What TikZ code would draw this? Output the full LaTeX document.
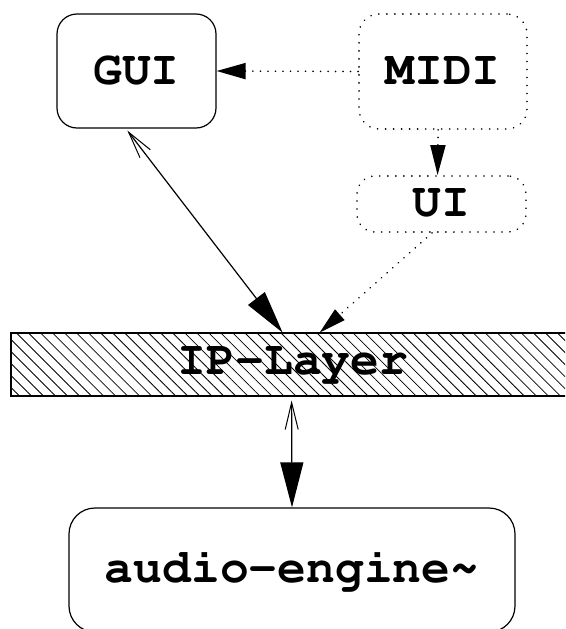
\documentclass[tikz,border=0pt]{standalone}
\usepackage[T1]{fontenc}
\usepackage{courier}
\usetikzlibrary{arrows.meta,patterns.meta,calc}
\begin{document}
\begin{tikzpicture}[x=1pt,y=-1pt,
  lbl/.style={font=\fontsize{48}{48}\selectfont\ttfamily\bfseries},
  solidbox/.style={draw,line width=1.2pt,rounded corners=20pt,inner sep=0pt,lbl},
  dotbox/.style={draw,line width=1.8pt,line cap=round,dash pattern=on 0.01pt off 8pt,rounded corners=20pt,inner sep=0pt,lbl},
  conn/.style={line width=1.2pt},
  dotconn/.style={line width=1.8pt,line cap=round,dash pattern=on 0.01pt off 7.5pt}
]
\useasboundingbox (0,0) rectangle (565,629);
\clip (0,0) rectangle (565,629);
\node[solidbox,minimum width=159pt,minimum height=114pt] (gui) at (136.5,71) {GUI};
\node[dotbox,minimum width=168pt,minimum height=115pt] (midi) at (443,71.5) {MIDI};
\node[dotbox,minimum width=169pt,minimum height=56pt,rounded corners=18pt] (ui) at (441.5,204) {UI};
\node[draw,line width=1.6pt,inner sep=0pt,minimum width=564pt,minimum height=63pt,
      pattern={Lines[angle=-45,distance=8.5pt,line width=0.8pt]},lbl] (ip) at (293,364.5) {IP-Layer};
\node[solidbox,minimum width=446pt,minimum height=124pt,rounded corners=26pt] (audio) at (292,570) {audio-engine\textasciitilde};

\draw[dotconn,-{Triangle[length=29pt,width=16pt]}] (midi.west) -- (gui.east);
\draw[dotconn,-{Triangle[length=30pt,width=15pt]}] ($(midi.south west)+(80,0)$) -- ($(ui.north west)+(81.5,0)$);
\draw[dotconn,-{Triangle[length=27pt,width=14pt]}] ($(ui.south west)+(76,0)$) -- ($(ip.north west)+(309,0)$);
\draw[conn,{Straight Barb[length=27pt,width=13pt,line width=1pt]}-{Triangle[length=43pt,width=21pt]}] ($(gui.south west)+(71,2)$) -- ($(ip.north west)+(272,0)$);
\draw[conn,{Straight Barb[length=27pt,width=13pt,line width=1pt]}-{Triangle[length=45pt,width=23pt]}] ($(ip.south west)+(281,4)$) -- (audio.north);
\end{tikzpicture}
\end{document}
